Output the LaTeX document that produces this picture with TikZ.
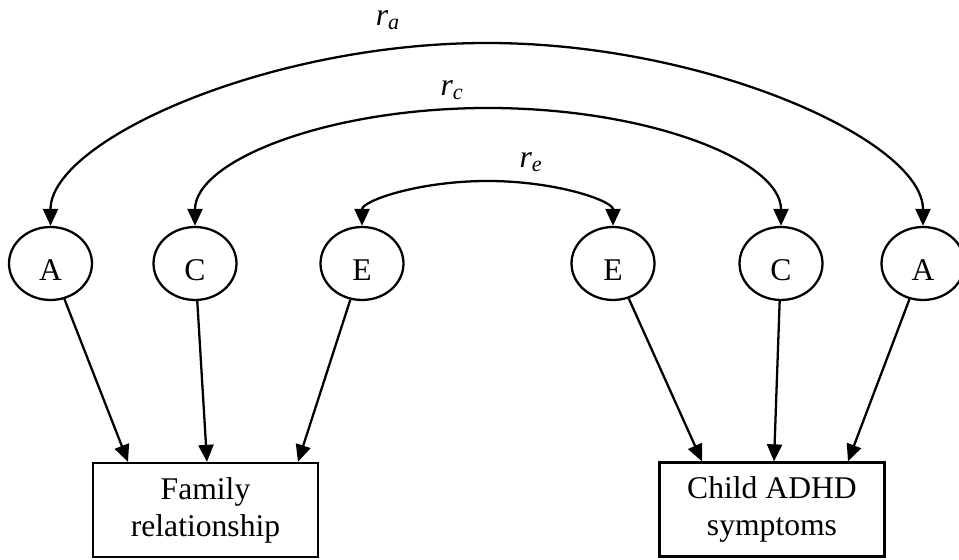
\documentclass[tikz,border=0pt]{standalone}
\usepackage{fontspec}
\setmainfont{Liberation Serif}
\usetikzlibrary{shapes.geometric,arrows.meta}
\begin{document}
\begin{tikzpicture}[x=0.02cm,y=0.02cm,line width=1.3pt,
  >={Triangle[length=3.4mm,width=3mm]},
  font=\fontsize{18}{21}\selectfont,
  latent/.style={ellipse,draw,minimum width=1.66cm,minimum height=1.46cm,inner sep=0pt,text height=19pt,text depth=0pt},
  measured/.style={rectangle,draw,minimum width=4.5cm,minimum height=1.88cm,align=center,inner sep=0pt}]
\clip (0,0) rectangle (959,560);
\foreach \n/\x/\lab in {la/50.5/A,lc/195/C,le/362/E,re/613/E,rc/781/C,ra/923/A}
  \node[latent] (\n) at (\x,296.5) {\lab};
\node[measured] (fam) at (205.5,50) {Family\\relationship};
\node[measured] (adhd) at (772,50.5) {Child ADHD\\symptoms};
% tops of the three arcs
\coordinate (pa) at (487,517);
\coordinate (pc) at (488,452);
\coordinate (pe) at (487.5,379);
\draw[<->] (la.north) .. controls +(0,85) and +(-220,0) .. (pa) .. controls +(220,0) and +(0,85) .. (ra.north);
\draw[<->] (lc.north) .. controls +(0,65) and +(-161,0) .. (pc) .. controls +(161,0) and +(0,65) .. (rc.north);
\draw[<->] (le.north) .. controls +(0,25) and +(-69,0) .. (pe) .. controls +(69,0) and +(0,25) .. (re.north);
\node (ra-lab) at (388,540) {\itshape r\textsubscript{a}};
\node (rc-lab) at (452,470) {\itshape r\textsubscript{c}};
\node (re-lab) at (531,398) {\itshape r\textsubscript{e}};
% paths to the measured traits
\draw[->] (la) -- ([xshift=-1.55cm]fam.north);
\draw[->] (lc) -- ([xshift=0.03cm]fam.north);
\draw[->] (le) -- ([xshift=1.85cm]fam.north);
\draw[->] (re) -- ([xshift=-1.4cm]adhd.north);
\draw[->] (rc) -- ([xshift=0.04cm]adhd.north);
\draw[->] (ra) -- ([xshift=1.52cm]adhd.north);
\end{tikzpicture}
\end{document}
